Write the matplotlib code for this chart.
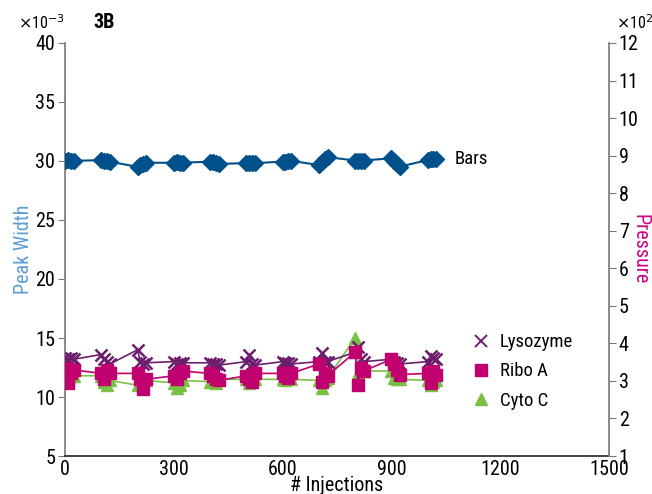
import numpy as np
import matplotlib.pyplot as plt
from matplotlib.lines import Line2D

plt.rcParams['font.family'] = ['Roboto Condensed', 'Liberation Sans', 'DejaVu Sans']

#------------------------------ data ------------------------------#
# injection numbers: 11 groups of 4 replicate runs
inj = [0, 8, 16, 24,
       100, 108, 116, 124,
       200, 208, 216, 224,
       300, 308, 316, 324,
       400, 408, 416, 424,
       500, 508, 516, 524,
       600, 608, 616, 624,
       700, 708, 716, 724,
       800, 808, 816, 824,
       900, 908, 916, 924,
       1000, 1008, 1016, 1024]

# peak width (x10^-3)
lyso = [13.3, 13.2, 13.3, 13.2,
        13.6, 13.2, 13.0, 12.8,
        14.0, 13.0, 12.8, 12.9,
        13.0, 12.8, 12.9, 12.9,
        12.9, 12.8, 12.8, 12.7,
        13.0, 13.6, 12.8, 12.7,
        13.0, 12.9, 12.9, 12.8,
        13.0, 13.7, 13.0, 13.0,
        13.8, 14.2, 13.2, 13.0,
        13.2, 13.0, 12.9, 12.8,
        13.0, 13.5, 13.3, 13.2]
ribo = [12.5, 11.2, 12.0, 12.3,
        12.0, 11.5, 12.3, 12.0,
        12.0, 11.5, 10.7, 11.5,
        11.8, 11.5, 12.0, 12.2,
        12.0, 11.8, 11.5, 11.4,
        11.8, 11.5, 11.3, 12.0,
        12.0, 11.8, 11.6, 12.0,
        12.8, 11.3, 12.0, 11.8,
        13.8, 11.0, 12.5, 12.2,
        13.2, 12.8, 12.3, 11.9,
        12.0, 11.2, 12.2, 11.9]
cyto = [11.5, 11.6, 11.8, 11.8,
        11.8, 11.3, 11.0, 11.4,
        11.0, 11.2, 11.3, 11.4,
        11.2, 10.8, 11.0, 11.4,
        11.3, 11.4, 11.2, 11.5,
        11.5, 11.2, 11.4, 11.5,
        11.5, 11.4, 11.6, 11.5,
        11.4, 10.8, 11.4, 11.6,
        15.0, 12.0, 12.2, 12.2,
        12.2, 11.6, 11.5, 11.5,
        11.4, 11.0, 11.3, 11.4]
# pressure (x10^2 bar)
bars = [8.87, 8.88, 8.87, 8.86,
        8.88, 8.86, 8.85, 8.84,
        8.70, 8.75, 8.79, 8.81,
        8.81, 8.82, 8.81, 8.81,
        8.84, 8.83, 8.80, 8.78,
        8.80, 8.80, 8.81, 8.80,
        8.84, 8.84, 8.85, 8.86,
        8.75, 8.82, 8.92, 8.96,
        8.87, 8.87, 8.87, 8.87,
        8.93, 8.85, 8.77, 8.71,
        8.88, 8.91, 8.91, 8.90]

c_blue = '#00508c'
c_lyso = '#6b1e6e'
c_ribo = '#c0006f'
c_cyto = '#7ac143'
c_pw = '#5b9bd5'
c_pr = '#cc0088'

#------------------------------ plot ------------------------------#
fig = plt.figure(figsize=(6.52, 4.94), dpi=100)
ax = fig.add_axes([0.0997, 0.0769, 0.8343, 0.8361])
ax2 = ax.twinx()

ax.plot(inj, cyto, '-', color=c_cyto, lw=1.2, marker='^', ms=8, mec=c_cyto, mfc=c_cyto, zorder=2)
ax.plot(inj, lyso, '-', color=c_lyso, lw=1.2, marker='x', ms=9, mew=1.8, zorder=3)
ax.plot(inj, ribo, '-', color=c_ribo, lw=1.2, marker='s', ms=8.5, mec=c_ribo, mfc=c_ribo, zorder=4)
ax2.plot(inj, bars, '-', color=c_blue, lw=1.5, marker='D', ms=8.5, mec=c_blue, mfc=c_blue)

ax.set_xlim(0, 1500)
ax.set_ylim(5, 40)
ax2.set_ylim(1, 12)
ax.set_xticks(np.arange(0, 1501, 300))
ax.set_yticks(np.arange(5, 41, 5))
ax2.set_yticks(np.arange(1, 13, 1))

for a in (ax, ax2):
    a.spines['top'].set_visible(False)
ax.spines['right'].set_visible(False)
ax2.spines['left'].set_visible(False)
ax2.spines['bottom'].set_visible(False)
ax.spines['left'].set_color('#777777')
ax2.spines['right'].set_color('#777777')
ax.spines['bottom'].set_color('#222222')
ax.spines['left'].set_linewidth(1.2)
ax2.spines['right'].set_linewidth(1.2)
ax.spines['bottom'].set_linewidth(1.2)

ax.tick_params(axis='y', direction='out', length=5, color='#777777', labelsize=14.5, pad=2)
ax.tick_params(axis='x', length=0, labelsize=14.5, pad=3)
ax2.tick_params(axis='y', direction='out', length=5, color='#777777', labelsize=14.5, pad=2)

ax.set_xlabel('# Injections', fontsize=14.5, labelpad=-2)
ax.set_ylabel('Peak Width', fontsize=14.5, color=c_pw, labelpad=2)
ax2.set_ylabel('Pressure', fontsize=14.5, color=c_pr, rotation=-90, labelpad=8)

fig.text(0.028, 0.955, r'$\times$10$^{-3}$', fontsize=11.5, va='center')
fig.text(0.945, 0.955, r'$\times$10$^{2}$', fontsize=11.5, va='center')
fig.text(0.143, 0.955, '3B', fontsize=14.5, fontweight='bold', va='center')

ax2.text(1075, 8.9, 'Bars', fontsize=13.5, va='center')

handles = [Line2D([], [], ls='none', marker='x', ms=8, mew=1.4, color=c_lyso, label='Lysozyme'),
           Line2D([], [], ls='none', marker='s', ms=8, color=c_ribo, label='Ribo A'),
           Line2D([], [], ls='none', marker='^', ms=8, color=c_cyto, label='Cyto C')]
ax.legend(handles=handles, loc='center left', bbox_to_anchor=(0.72, 0.205),
          frameon=False, fontsize=13.5, handlelength=0.8, handletextpad=0.6, labelspacing=0.6)

fig.savefig('out.png', dpi=100)
